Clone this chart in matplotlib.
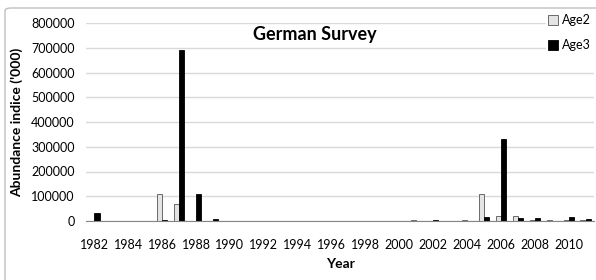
import numpy as np
import matplotlib.pyplot as plt
from matplotlib.patches import FancyBboxPatch

# German survey abundance indices ('000)
years = list(range(1982, 2012))
age2 = [2000, 1000, 1000, 1000, 110000, 68000, 2000, 2000, 1000, 1000,
        1000, 1000, 1000, 1000, 1000, 1000, 1000, 1000, 1000, 4000,
        2000, 2000, 4000, 110000, 22000, 22000, 4000, 4000, 4000, 5000]
age3 = [33000, 1000, 1000, 1000, 4000, 690000, 110000, 10000, 1000, 1000,
        1000, 1000, 1000, 1000, 1000, 1000, 1000, 1000, 1000, 1000,
        4000, 2000, 1000, 18000, 330000, 12000, 14000, 1000, 17000, 10000]
yticks = [0, 100000, 200000, 300000, 400000, 500000, 600000, 700000, 800000]

plt.rcParams['font.family'] = ['Lato', 'DejaVu Sans']

fig = plt.figure(figsize=(5.96, 2.8), dpi=100)
W, H = 596, 280
ax = fig.add_axes([86 / W, 1 - 221 / H, (594 - 86) / W, (221 - 23) / H])

x = np.arange(len(years))
w = 0.3
ax.bar(x - w / 2, age2, w, color='#e4e4e4', edgecolor='#555555', linewidth=0.6,
       label='Age2', zorder=3)
ax.bar(x + w / 2, age3, w, color='black', edgecolor='black', linewidth=0.6,
       label='Age3', zorder=3)

ax.set_xlim(-0.5, len(years) - 0.5)
ax.set_ylim(0, 800000)
ax.set_yticks(yticks)
ax.set_yticklabels([str(v) for v in yticks], fontsize=9)
ax.set_xticks(x[::2])
ax.set_xticklabels([str(y) for y in years[::2]], fontsize=9)
ax.tick_params(axis='both', length=0)
ax.tick_params(axis='x', pad=13)
ax.tick_params(axis='y', pad=8)

ax.grid(axis='y', color='#d9d9d9', linewidth=1, zorder=0)
for s in ['top', 'right', 'left']:
    ax.spines[s].set_visible(False)
ax.spines['bottom'].set_color('#868686')
ax.spines['bottom'].set_zorder(4)

ax.set_ylabel("Abundance indice ('000)", fontsize=10, fontweight='bold', labelpad=6)
ax.set_xlabel('Year', fontsize=10, fontweight='bold', labelpad=5)
ax.text(0.45, 0.985, 'German Survey', transform=ax.transAxes, ha='center', va='top',
        fontsize=13, fontweight='bold', zorder=5)

leg = ax.legend(loc='upper right', bbox_to_anchor=(1.01, 1.085), frameon=True,
                fontsize=9, handlelength=0.8, handleheight=0.8, handletextpad=0.3,
                labelspacing=1.05, borderpad=0.15, fancybox=False)
leg.get_frame().set_edgecolor('white')
leg.get_frame().set_facecolor('white')
leg.get_frame().set_alpha(1)

border = FancyBboxPatch((5 / W, -20 / H), 620 / W, 292 / H,
                        boxstyle='round,pad=0,rounding_size=0.01',
                        transform=fig.transFigure, fill=False, edgecolor='#bfbfbf',
                        linewidth=1, zorder=10)
fig.patches.append(border)

fig.savefig('out.png', dpi=100)
